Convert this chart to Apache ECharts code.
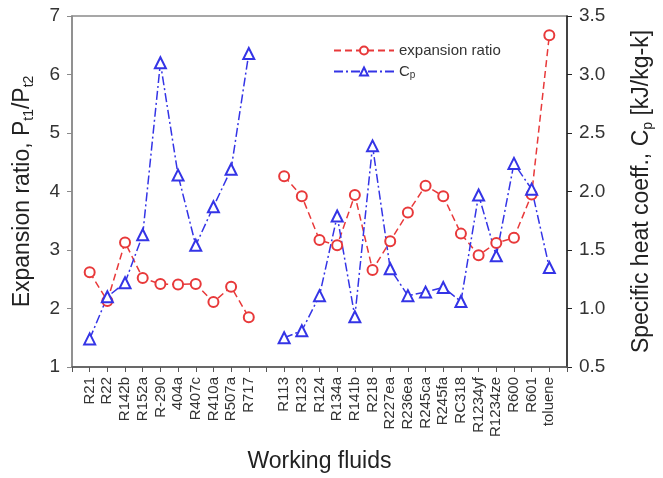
<!DOCTYPE html>
<html>
<head>
<meta charset="utf-8">
<script src="https://cdn.jsdelivr.net/npm/echarts@6/dist/echarts.min.js"></script>
<style>
  html, body {margin: 0; padding: 0; background: #fff;}
  #chart {width: 663px; height: 478px;}
</style>
</head>
<body>
<div id="chart"></div>
<script>
// blank slots at both ends and between the two groups
var fluids = ['', 'R21', 'R22', 'R142b', 'R152a', 'R-290', '404a', 'R407c', 'R410a', 'R507a', 'R717', '',
  'R113', 'R123', 'R124', 'R134a', 'R141b', 'R218', 'R227ea', 'R236ea', 'R245ca', 'R245fa', 'RC318',
  'R1234yf', 'R1234ze', 'R600', 'R601', 'toluene', ''];

var expansionRatio = [null, 2.62, 2.13, 3.13, 2.52, 2.42, 2.41, 2.42, 2.11, 2.37, 1.85, null,
  4.26, 3.92, 3.17, 3.08, 3.94, 2.66, 3.15, 3.64, 4.10, 3.92, 3.28,
  2.91, 3.12, 3.21, 3.95, 6.67, null];

var cp = [null, 0.74, 1.10, 1.22, 1.63, 3.10, 2.14, 1.54, 1.87, 2.19, 3.18, null,
  0.75, 0.81, 1.11, 1.79, 0.93, 2.39, 1.34, 1.11, 1.14, 1.18, 1.06,
  1.97, 1.45, 2.24, 2.02, 1.35, null];

var red = '#e8393a';
var blue = '#3434e6';
var font = 'Liberation Sans, Arial, sans-serif';
var sub = {fontSize: 14, fontFamily: font, color: '#222', padding: [12, 0, 0, 0]};

var chart = echarts.init(document.getElementById('chart'));
chart.setOption({
  animation: false,
  grid: {left: 72, right: 95, top: 16, bottom: 105, show: true, borderColor: '#8a8a8a', borderWidth: 1.5},
  legend: {
    orient: 'vertical', left: 328, top: 38, itemWidth: 60, itemHeight: 10, itemGap: 6,
    textStyle: {fontFamily: font, fontSize: 15, color: '#333', rich: {s: {fontSize: 10, fontFamily: font, color: '#333', padding: [8, 0, 0, 0]}}},
    formatter: function (n) { return n === 'Cp' ? 'C{s|p}' : n; },
    data: ['expansion ratio', 'Cp']
  },
  xAxis: {
    type: 'category', data: fluids, boundaryGap: false,
    name: 'Working fluids', nameLocation: 'middle', nameGap: 83,
    nameTextStyle: {fontFamily: font, fontSize: 23, color: '#222'},
    axisLine: {lineStyle: {color: '#555', width: 1.5}},
    axisTick: {interval: 0, length: 5, lineStyle: {color: '#555'}},
    axisLabel: {interval: 0, rotate: 90, margin: 10, fontFamily: font, fontSize: 15, color: '#333'},
    splitLine: {show: false}
  },
  yAxis: [{
    type: 'value', min: 1, max: 7, interval: 1,
    name: 'Expansion ratio, P{s|t1}/P{s|t2}', nameLocation: 'middle', nameGap: 36,
    nameTextStyle: {fontFamily: font, fontSize: 23, color: '#222', rich: {s: sub}},
    axisLine: {show: true, lineStyle: {color: '#8a8a8a', width: 1.5}},
    axisTick: {show: true, length: 5, lineStyle: {color: '#8a8a8a'}},
    axisLabel: {margin: 12, fontFamily: font, fontSize: 19, color: '#333'},
    splitLine: {show: false}
  }, {
    type: 'value', min: 0.5, max: 3.5, interval: 0.5, position: 'right',
    name: 'Specific heat coeff., C{s|p} [kJ/kg-k]', nameLocation: 'middle', nameGap: 62,
    nameTextStyle: {fontFamily: font, fontSize: 23, color: '#222', rich: {s: sub}},
    axisLine: {show: true, lineStyle: {color: '#222', width: 1.5}},
    axisTick: {show: true, length: 5, lineStyle: {color: '#222'}},
    axisLabel: {margin: 12, fontFamily: font, fontSize: 19, color: '#333',
      formatter: function (v) { return v.toFixed(1); }},
    splitLine: {show: false}
  }],
  series: [{
    name: 'expansion ratio', type: 'line', yAxisIndex: 0, data: expansionRatio,
    symbol: 'emptyCircle', symbolSize: 10,
    lineStyle: {color: red, width: 1.5, type: [7, 4]},
    itemStyle: {color: red, borderWidth: 1.5}
  }, {
    name: 'Cp', type: 'line', yAxisIndex: 1, data: cp,
    symbol: 'emptyTriangle', symbolSize: 11,
    lineStyle: {color: blue, width: 1.5, type: [9, 3, 2, 3]},
    itemStyle: {color: blue, borderWidth: 1.5}
  }]
});
</script>
</body>
</html>
